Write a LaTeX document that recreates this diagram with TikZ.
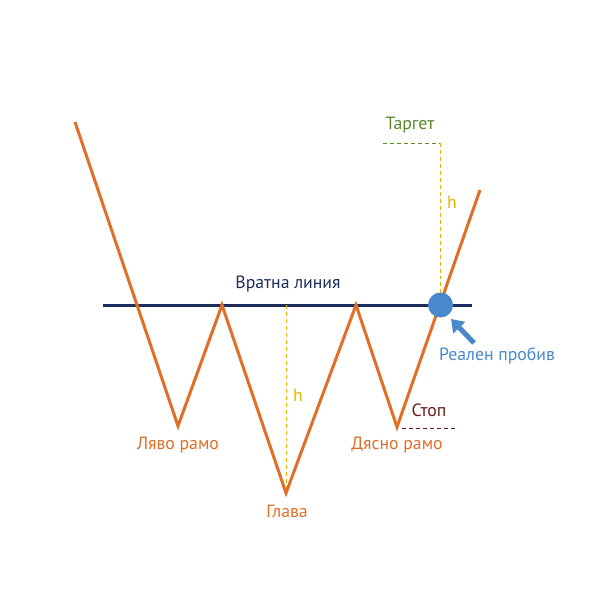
\documentclass[tikz,border=0pt]{standalone}
\usepackage{fontspec}
\setmainfont{PT Sans}
\usetikzlibrary{arrows.meta}
\definecolor{orng}{HTML}{E07028}
\definecolor{navy}{HTML}{1F2D5C}
\definecolor{bluec}{HTML}{4A88CC}
\definecolor{grn}{HTML}{5A8A2A}
\definecolor{yel}{HTML}{E0B800}
\definecolor{mar}{HTML}{6B1A1A}
\tikzset{
  price/.style={orng, line width=3bp, line join=miter},
  neck/.style={navy, line width=3bp},
  hdash/.style={yel, line width=0.9pt, dash pattern=on 4pt off 3pt},
  lbl/.style={font=\fontsize{17.8}{20}\selectfont, inner sep=0pt}
}
\begin{document}
\begin{tikzpicture}[x=1bp,y=-1bp]
\useasboundingbox (0,0) rectangle (601,600);
\fill[white] (0,0) rectangle (601,600);
% points
\coordinate (s) at (75,122);
\coordinate (ls) at (178,426);
\coordinate (p1) at (222,305);
\coordinate (hd) at (286,493);
\coordinate (p2) at (356,305);
\coordinate (rs) at (397,427);
\coordinate (e) at (480,190);
\coordinate (nl) at (103,305);
\coordinate (nr) at (472,305);
\coordinate (tg) at (440,143);
\coordinate (tgl) at (383,143);
\coordinate (stl) at (402,428);
\coordinate (str) at (455,428);
% neckline
\draw[neck] (nl) -- (nr);
% dashed lines
\draw[hdash] (p1 -| hd) -- (hd);
\draw[hdash] (tg) -- (440,293);
\draw[grn, line width=0.9pt, dash pattern=on 4pt off 3pt] (tgl) -- (tg);
\draw[mar, line width=0.9pt, dash pattern=on 4pt off 3pt] (stl) -- (str);
% price
\draw[price] (s) -- (ls) -- (p1) -- (hd) -- (p2) -- (rs) -- (e);
% breakout
\node[circle, fill=bluec, minimum size=25bp, inner sep=0pt] (bo) at (440.5,305) {};
\coordinate (at) at (474,343);
\draw[bluec, line width=5bp, -{Triangle[length=12bp,width=16bp]}] (at) -- (451,319);
% labels
\node[lbl, navy] (tnl) at (288,284) {Вратна линия};
\node[lbl, orng] (tls) at (178,445) {Ляво рамо};
\node[lbl, orng] (thd) at (287,511) {Глава};
\node[lbl, orng] (trs) at (397,445) {Дясно рамо};
\node[lbl, grn] (ttg) at (410,125) {Таргет};
\node[lbl, mar] (tst) at (429,410) {Стоп};
\node[lbl, bluec] (tbo) at (497,356) {Реален пробив};
\node[lbl, yel] (th1) at (298,395) {h};
\node[lbl, yel] (th2) at (452,202) {h};
\end{tikzpicture}
\end{document}
